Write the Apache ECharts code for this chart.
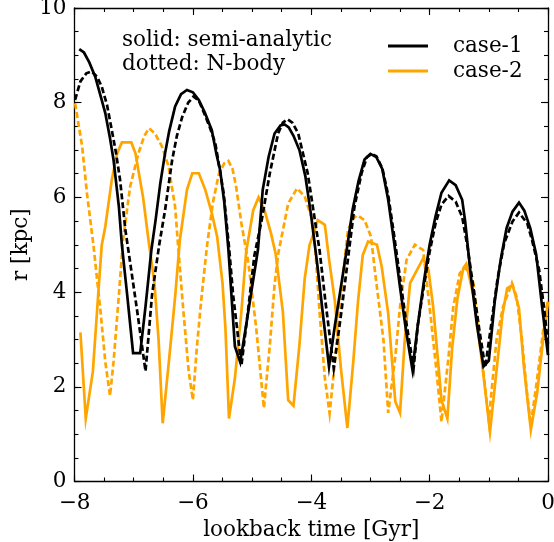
<!DOCTYPE html>
<html>
<head>
<meta charset="utf-8">
<script src="https://cdn.jsdelivr.net/npm/echarts@6/dist/echarts.min.js"></script>
<style>
html,body{margin:0;padding:0;background:#fff;}
#chart{width:554px;height:542px;}
</style>
</head>
<body>
<div id="chart"></div>
<script>
// lookback time [Gyr], r [kpc]
var case1Semi = [[-7.92,9.13],[-7.84,9.06],[-7.75,8.85],[-7.65,8.55],[-7.55,8.1],[-7.48,7.78],[-7.40,7.25],[-7.34,6.79],[-7.25,5.8],[-7.20,5.0],[-7.11,3.94],[-7.01,2.71],[-6.89,2.71],[-6.80,3.7],[-6.70,4.9],[-6.63,5.52],[-6.55,6.3],[-6.47,6.93],[-6.40,7.4],[-6.30,7.92],[-6.20,8.18],[-6.10,8.27],[-6.00,8.22],[-5.90,8.06],[-5.80,7.8],[-5.68,7.42],[-5.60,6.9],[-5.54,6.58],[-5.47,5.9],[-5.40,4.9],[-5.29,2.85],[-5.20,2.52],[-5.10,3.3],[-5.00,4.1],[-4.90,4.9],[-4.82,6.16],[-4.72,6.86],[-4.62,7.35],[-4.52,7.52],[-4.45,7.54],[-4.38,7.48],[-4.30,7.3],[-4.20,7.0],[-4.10,6.45],[-4.00,5.6],[-3.90,4.6],[-3.80,3.5],[-3.70,2.43],[-3.60,3.3],[-3.50,4.1],[-3.40,4.9],[-3.30,5.75],[-3.20,6.35],[-3.10,6.8],[-3.00,6.92],[-2.90,6.85],[-2.80,6.6],[-2.70,5.95],[-2.60,5.05],[-2.50,4.1],[-2.40,3.2],[-2.29,2.36],[-2.20,3.3],[-2.10,4.2],[-2.00,5.0],[-1.90,5.6],[-1.80,6.1],[-1.67,6.36],[-1.56,6.26],[-1.45,5.95],[-1.40,5.5],[-1.30,4.3],[-1.20,3.3],[-1.09,2.43],[-1.00,2.55],[-0.90,3.8],[-0.80,4.68],[-0.70,5.35],[-0.60,5.70],[-0.49,5.89],[-0.40,5.72],[-0.30,5.35],[-0.20,4.8],[-0.10,3.7],[0,2.67]];

var case1Nbody = [[-7.99,8.06],[-7.90,8.45],[-7.80,8.62],[-7.71,8.66],[-7.62,8.55],[-7.54,8.34],[-7.45,7.95],[-7.37,7.42],[-7.30,6.95],[-7.23,6.37],[-7.14,5.31],[-7.08,4.8],[-6.94,3.59],[-6.80,2.33],[-6.69,3.94],[-6.57,4.99],[-6.47,5.73],[-6.35,6.79],[-6.27,7.3],[-6.18,7.70],[-6.08,8.0],[-5.99,8.13],[-5.90,8.05],[-5.82,7.81],[-5.72,7.5],[-5.62,7.14],[-5.48,6.09],[-5.39,4.96],[-5.32,3.94],[-5.18,2.45],[-5.07,3.59],[-4.96,4.78],[-4.84,5.5],[-4.70,6.51],[-4.56,7.35],[-4.48,7.58],[-4.40,7.65],[-4.32,7.58],[-4.22,7.35],[-4.06,6.51],[-3.93,5.45],[-3.86,4.89],[-3.76,3.8],[-3.62,2.39],[-3.49,3.59],[-3.35,5.0],[-3.27,5.8],[-3.15,6.51],[-3.06,6.85],[-2.98,6.92],[-2.90,6.87],[-2.80,6.62],[-2.70,6.05],[-2.60,5.2],[-2.50,4.3],[-2.40,3.4],[-2.27,2.40],[-2.20,3.3],[-2.10,4.1],[-2.00,4.85],[-1.90,5.45],[-1.80,5.85],[-1.68,6.03],[-1.56,5.91],[-1.45,5.59],[-1.36,4.96],[-1.25,4.0],[-1.16,3.2],[-1.06,2.41],[-0.95,3.4],[-0.85,4.3],[-0.74,5.03],[-0.60,5.49],[-0.49,5.68],[-0.35,5.45],[-0.27,5.1],[-0.15,4.47],[-0.07,3.7],[0,2.9]];

var case2Semi = [[-7.90,3.15],[-7.81,1.33],[-7.69,2.32],[-7.60,3.94],[-7.54,4.99],[-7.48,5.38],[-7.37,6.37],[-7.28,6.93],[-7.20,7.16],[-7.04,7.16],[-6.97,6.93],[-6.84,5.99],[-6.75,5.1],[-6.65,4.2],[-6.58,3.0],[-6.51,1.23],[-6.40,2.6],[-6.30,3.9],[-6.22,5.1],[-6.10,6.16],[-6.01,6.51],[-5.90,6.51],[-5.79,6.16],[-5.68,5.67],[-5.59,5.17],[-5.50,4.2],[-5.45,3.24],[-5.39,1.33],[-5.29,2.18],[-5.18,3.59],[-5.10,4.85],[-4.98,5.73],[-4.89,6.0],[-4.79,5.73],[-4.68,5.24],[-4.60,4.8],[-4.48,3.59],[-4.39,1.72],[-4.30,1.60],[-4.20,2.88],[-4.11,4.29],[-4.03,4.99],[-3.94,5.31],[-3.89,5.52],[-3.77,5.42],[-3.70,4.7],[-3.60,3.8],[-3.50,2.4],[-3.39,1.13],[-3.29,2.53],[-3.21,3.80],[-3.13,4.78],[-3.04,5.07],[-2.89,5.0],[-2.81,4.54],[-2.70,3.55],[-2.58,1.69],[-2.50,1.45],[-2.42,2.99],[-2.33,4.19],[-2.11,4.71],[-2.02,4.47],[-1.94,3.69],[-1.85,2.43],[-1.80,1.72],[-1.70,1.33],[-1.62,2.81],[-1.53,3.87],[-1.43,4.51],[-1.38,4.6],[-1.25,3.87],[-1.11,2.46],[-0.98,1.05],[-0.86,2.46],[-0.77,3.52],[-0.69,4.08],[-0.60,4.15],[-0.49,3.66],[-0.41,2.46],[-0.29,1.09],[-0.18,1.90],[-0.10,2.81],[0,3.8]];

var case2Nbody = [[-7.99,7.99],[-7.87,7.07],[-7.79,6.09],[-7.68,4.99],[-7.56,3.59],[-7.48,2.53],[-7.40,1.81],[-7.34,2.53],[-7.25,3.94],[-7.18,5.1],[-7.06,6.23],[-6.92,6.93],[-6.82,7.3],[-6.74,7.46],[-6.64,7.35],[-6.52,7.07],[-6.41,6.65],[-6.30,5.8],[-6.25,4.99],[-6.16,3.59],[-6.07,2.32],[-6.00,1.72],[-5.93,2.88],[-5.85,3.94],[-5.76,4.99],[-5.66,5.9],[-5.56,6.5],[-5.47,6.72],[-5.40,6.77],[-5.33,6.6],[-5.27,6.23],[-5.18,5.45],[-5.06,4.6],[-4.93,3.24],[-4.80,1.55],[-4.70,2.88],[-4.62,4.15],[-4.56,4.8],[-4.48,5.3],[-4.39,5.87],[-4.24,6.19],[-4.11,6.02],[-4.00,5.59],[-3.93,4.89],[-3.86,3.59],[-3.77,2.18],[-3.69,1.44],[-3.60,2.53],[-3.52,3.59],[-3.46,4.43],[-3.38,5.31],[-3.29,5.56],[-3.22,5.62],[-3.10,5.52],[-2.99,5.17],[-2.92,4.4],[-2.78,2.99],[-2.70,1.45],[-2.58,2.64],[-2.50,3.69],[-2.39,4.68],[-2.25,5.0],[-2.11,4.89],[-1.97,3.34],[-1.88,2.29],[-1.80,1.26],[-1.68,2.64],[-1.60,3.69],[-1.49,4.4],[-1.39,4.52],[-1.26,4.19],[-1.18,3.34],[-1.09,2.29],[-1.00,1.3],[-0.87,2.99],[-0.76,3.69],[-0.61,4.19],[-0.53,3.9],[-0.44,3.0],[-0.36,1.93],[-0.29,1.2],[-0.18,2.2],[-0.08,3.2],[0,3.85]];

var legendNames = ['case-1', 'case-2'];
var noteLines = ['solid: semi-analytic', 'dotted: N-body'];

var FONT = 'DejaVu Serif';
var FS = 21.5;
var chart = echarts.init(document.getElementById('chart'), null, {renderer: 'canvas'});
function minusFmt(v){ return String(v).replace('-', '\u2212'); }
var axisLineStyle = {color: '#000', width: 1.3};
function xAx(pos, showLabel, name, step, tickLen, showLine){
  return {
    type: 'value', position: pos, min: -8, max: 0, interval: step,
    name: name, nameLocation: 'middle', nameGap: 36,
    nameTextStyle: {fontFamily: FONT, fontSize: FS, color: '#000'},
    axisLine: {show: showLine, onZero: false, lineStyle: axisLineStyle},
    axisTick: {show: true, inside: true, length: tickLen, lineStyle: {color: '#000', width: 1.1}},
    axisLabel: {show: showLabel, margin: 11, fontFamily: FONT, fontSize: FS, color: '#000', formatter: minusFmt},
    splitLine: {show: false}
  };
}
function yAx(pos, showLabel, name, step, tickLen, showLine){
  return {
    type: 'value', position: pos, min: 0, max: 10, interval: step,
    name: name, nameLocation: 'middle', nameGap: 42, nameMoveOverlap: false,
    nameTextStyle: {fontFamily: FONT, fontSize: FS, color: '#000'},
    axisLine: {show: showLine, onZero: false, lineStyle: axisLineStyle},
    axisTick: {show: true, inside: true, length: tickLen, lineStyle: {color: '#000', width: 1.1}},
    axisLabel: {show: showLabel, margin: 8, fontFamily: FONT, fontSize: FS, color: '#000'},
    splitLine: {show: false}
  };
}
var BLACK = '#000000', ORANGE = '#ffa500';
function line(name, data, color, dashed){
  return {
    name: name, type: 'line', data: data, xAxisIndex: 0, yAxisIndex: 0,
    showSymbol: false, symbol: 'none', animation: false, clip: true,
    itemStyle: {color: color},
    lineStyle: {color: color, width: 2.7, type: dashed ? [6, 3] : 'solid', join: 'miter'}
  };
}
chart.setOption({
  backgroundColor: '#fff',
  animation: false,
  grid: {left: 74.5, right: 6, top: 8, bottom: 60.5, containLabel: false, outerBoundsMode: 'none'},
  xAxis: [
    xAx('bottom', true, 'lookback time [Gyr]', 2, 7, true),
    xAx('top', false, '', 2, 7, true),
    xAx('bottom', false, '', 0.5, 4, false),
    xAx('top', false, '', 0.5, 4, false)
  ],
  yAxis: [
    yAx('left', true, 'r [kpc]', 2, 7, true),
    yAx('right', false, '', 2, 7, true),
    yAx('left', false, '', 0.5, 4, false),
    yAx('right', false, '', 0.5, 4, false)
  ],
  legend: {
    data: legendNames, orient: 'vertical', left: 388, top: 34, itemGap: 1, padding: 0,
    itemWidth: 40, itemHeight: 3, icon: 'rect',
    textStyle: {fontFamily: FONT, fontSize: FS, color: '#000', lineHeight: 24, padding: [0, 0, 0, 20]},
    selectedMode: false
  },
  graphic: [
    {type: 'text', x: 122, y: 40, style: {text: noteLines[0], font: FS + 'px "' + FONT + '"', fill: '#000', verticalAlign: 'middle'}},
    {type: 'text', x: 122, y: 64, style: {text: noteLines[1], font: FS + 'px "' + FONT + '"', fill: '#000', verticalAlign: 'middle'}}
  ],
  series: [
    line('case-2', case2Semi, ORANGE, false),
    line('case-2 N-body', case2Nbody, ORANGE, true),
    line('case-1', case1Semi, BLACK, false),
    line('case-1 N-body', case1Nbody, BLACK, true)
  ]
});
</script>
</body>
</html>
